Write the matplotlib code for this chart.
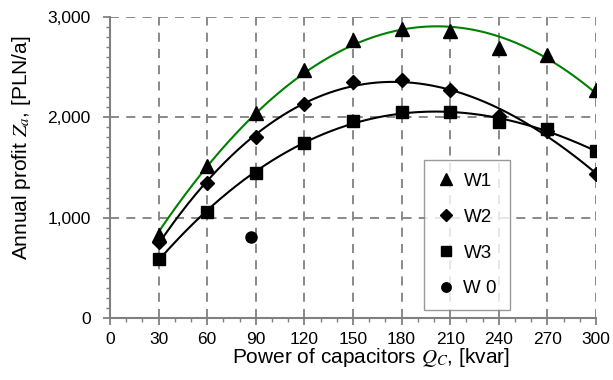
import numpy as np
import matplotlib
matplotlib.use("Agg")
import matplotlib.pyplot as plt
from matplotlib.ticker import MultipleLocator, FuncFormatter

plt.rcParams['font.family'] = ['Liberation Sans', 'DejaVu Sans']
plt.rcParams['mathtext.fontset'] = 'stix'

q = [30, 60, 90, 120, 150, 180, 210, 240, 270, 300]
w1 = [830, 1510, 2045, 2475, 2775, 2885, 2860, 2695, 2625, 2275]
w2 = [755, 1350, 1805, 2135, 2350, 2375, 2270, 2015, 1860, 1435]
w3 = [585, 1060, 1450, 1745, 1960, 2050, 2050, 1955, 1885, 1660]
w0_q = [87]
w0 = [810]

fig = plt.figure(figsize=(6.13, 3.80), dpi=100)
ax = fig.add_axes([0.1794, 0.1632, 0.7929, 0.7921])

xs = np.linspace(30, 300, 300)
c1 = np.polyval(np.polyfit(q, w1, 2), xs)
c2 = np.polyval(np.polyfit(q, w2, 3), xs)
c3 = np.polyval(np.polyfit(q, w3, 3), xs)
ax.plot(xs, c1, color='#008000', lw=1.5, zorder=3)
ax.plot(xs, c2, color='black', lw=1.5, zorder=3)
ax.plot(xs, c3, color='black', lw=1.5, zorder=3)

ax.plot(q, w1, ls='none', marker='^', ms=9.5, color='black', label='W1', zorder=4)
ax.plot(q, w2, ls='none', marker='D', ms=7.5, color='black', label='W2', zorder=4)
ax.plot(q, w3, ls='none', marker='s', ms=8.5, color='black', label='W3', zorder=4)
ax.plot(w0_q, w0, ls='none', marker='o', ms=8, color='black', label='W 0', zorder=4)

ax.set_xlim(0, 300)
ax.set_ylim(0, 3000)
ax.xaxis.set_major_locator(MultipleLocator(30))
ax.xaxis.set_minor_locator(MultipleLocator(10))
ax.yaxis.set_major_locator(MultipleLocator(1000))
ax.yaxis.set_minor_locator(MultipleLocator(100))
ax.yaxis.set_major_formatter(FuncFormatter(lambda v, p: f"{int(v):,}"))

ax.grid(True, which='major', color='#808080', ls=(0, (5, 4)), lw=1.3)
ax.set_axisbelow(True)
for s in ['top', 'right']:
    ax.spines[s].set_visible(False)
for s in ['left', 'bottom']:
    ax.spines[s].set_color('#808080')
    ax.spines[s].set_linewidth(1.5)
ax.tick_params(which='major', direction='out', length=5, width=1.3, color='#808080',
               labelsize=12.5, labelcolor='black')
ax.tick_params(axis='x', which='major', pad=5)
ax.tick_params(axis='y', which='major', pad=9)
ax.tick_params(which='minor', direction='out', length=3, width=1.0, color='#808080')

ax.set_xlabel(r'Power of capacitors $Q_C$, [kvar]', fontsize=15)
ax.set_ylabel(r'Annual profit $Z_a$, [PLN/a]', fontsize=15)
ax.xaxis.set_label_coords(0.536, -0.132)
ax.yaxis.set_label_coords(-0.181, 0.565)
ax.xaxis.label.set_va('center')
ax.yaxis.label.set_va('center')

leg = ax.legend(loc='upper left', bbox_to_anchor=(0.647, 0.525), frameon=True, fancybox=False,
                edgecolor='#808080', fontsize=13.5, labelspacing=1.0, handletextpad=0.5,
                borderpad=0.68, handlelength=0.9, markerscale=0.85, borderaxespad=0)
leg.get_frame().set_linewidth(1.0)

fig.savefig('out.png', dpi=100)
